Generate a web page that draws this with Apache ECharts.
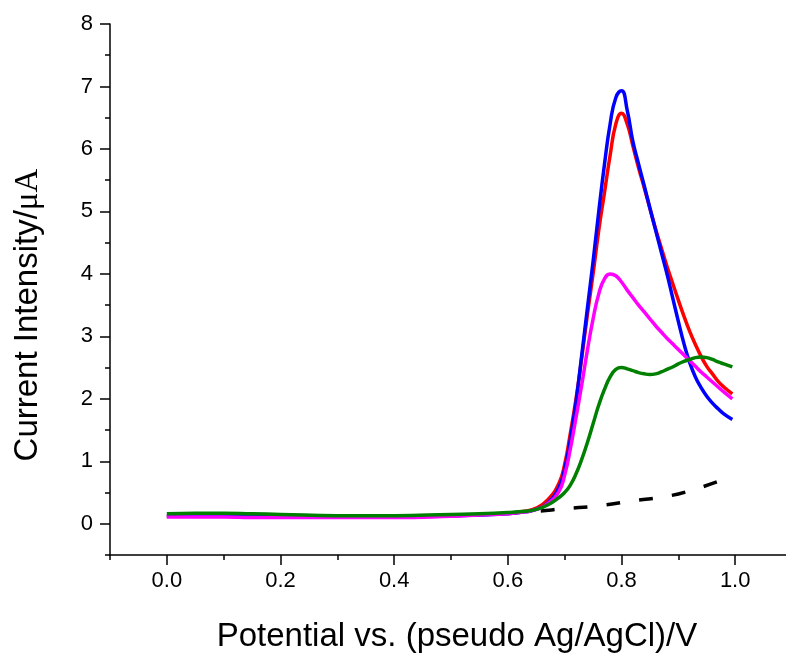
<!DOCTYPE html>
<html>
<head>
<meta charset="utf-8">
<script src="https://cdn.jsdelivr.net/npm/echarts@6/dist/echarts.min.js"></script>
<style>
html,body{margin:0;padding:0;background:#fff;}
#chart{width:786px;height:653px;}
</style>
</head>
<body>
<div id="chart"></div>
<script>
// Potential (V) sample positions shared by the four coloured curves
var potential = [0, 0.05, 0.1, 0.15, 0.2, 0.3, 0.4, 0.5, 0.55, 0.6, 0.63, 0.65, 0.67, 0.69, 0.70, 0.71, 0.72, 0.73, 0.74, 0.75, 0.76, 0.77, 0.78, 0.79, 0.80, 0.81, 0.82, 0.83, 0.84, 0.85, 0.86, 0.87, 0.88, 0.89, 0.90, 0.91, 0.92, 0.93, 0.94, 0.95, 0.96, 0.97, 0.98, 0.995];

var redCurrent = [0.12, 0.12, 0.12, 0.12, 0.11, 0.11, 0.11, 0.13, 0.15, 0.17, 0.20, 0.25, 0.38, 0.65, 0.95, 1.45, 2.0, 2.65, 3.35, 4.0, 4.7, 5.3, 5.9, 6.4, 6.57, 6.4, 6.05, 5.7, 5.38, 5.05, 4.72, 4.42, 4.12, 3.85, 3.58, 3.32, 3.08, 2.87, 2.68, 2.52, 2.4, 2.28, 2.19, 2.08];

var blueCurrent = [0.13, 0.13, 0.12, 0.12, 0.11, 0.11, 0.11, 0.13, 0.14, 0.16, 0.19, 0.23, 0.33, 0.58, 0.88, 1.35, 1.95, 2.7, 3.45, 4.2, 5.0, 5.75, 6.4, 6.82, 6.93, 6.62, 6.12, 5.76, 5.41, 5.05, 4.7, 4.35, 4.0, 3.62, 3.24, 2.88, 2.58, 2.35, 2.18, 2.04, 1.93, 1.84, 1.76, 1.67];

var magentaCurrent = [0.11, 0.11, 0.11, 0.10, 0.10, 0.10, 0.10, 0.12, 0.14, 0.16, 0.19, 0.23, 0.32, 0.52, 0.78, 1.2, 1.7, 2.22, 2.78, 3.28, 3.68, 3.92, 4.0, 3.97, 3.87, 3.74, 3.62, 3.5, 3.39, 3.28, 3.17, 3.07, 2.97, 2.88, 2.79, 2.7, 2.61, 2.52, 2.43, 2.35, 2.27, 2.19, 2.11, 2.0];

var greenCurrent = [0.16, 0.17, 0.17, 0.16, 0.15, 0.13, 0.13, 0.15, 0.16, 0.18, 0.20, 0.23, 0.30, 0.42, 0.5, 0.62, 0.8, 1.03, 1.3, 1.6, 1.9, 2.15, 2.35, 2.47, 2.5, 2.48, 2.45, 2.42, 2.4, 2.39, 2.4, 2.43, 2.47, 2.51, 2.56, 2.6, 2.63, 2.66, 2.67, 2.66, 2.63, 2.59, 2.56, 2.51];

// Blank (black dashed) curve
var blankPotential = [0.6, 0.65, 0.698, 0.762, 0.821, 0.88, 0.921, 0.977];
var blankCurrent = [0.17, 0.2, 0.24, 0.29, 0.37, 0.44, 0.53, 0.70];

var xTickLabels = ['0.0', '0.2', '0.4', '0.6', '0.8', '1.0'];
var yTickLabels = ['0', '1', '2', '3', '4', '5', '6', '7', '8'];

function pairs(xs, ys) { return xs.map(function (x, i) { return [x, ys[i]]; }); }

var FONT = 'Liberation Sans, Arial, sans-serif';
var chart = echarts.init(document.getElementById('chart'), null, {renderer: 'canvas'});

// grid 0: data grid (x -0.1..1.1, y -0.5..8)
// grid 1: same left edge, y 0..8  -> major y ticks + labels
// grid 2: same bottom edge, x 0..1.2 -> major x ticks + labels
var pxPerX = (786 - 110 + 6) / 1.2;
var pxPerY = (653 - 24 - 98) / 8.5;

chart.setOption({
  animation: false,
  backgroundColor: '#ffffff',
  grid: [
    {left: 110, right: -6, top: 24, bottom: 98, outerBoundsMode: 'none', containLabel: false},
    {left: 110, right: -6, top: 24, bottom: 98 + 0.5 * pxPerY, outerBoundsMode: 'none', containLabel: false},
    {left: 110 + 0.1 * pxPerX, right: -6 - 0.1 * pxPerX, top: 24, bottom: 98, outerBoundsMode: 'none', containLabel: false}
  ],
  xAxis: [
    {
      type: 'value', gridIndex: 0, min: -0.1, max: 1.1, interval: 0.1,
      axisLine: {show: true, onZero: false, lineStyle: {color: '#000', width: 1.5}},
      axisTick: {show: true, inside: false, length: 5, lineStyle: {color: '#000', width: 1.5}},
      axisLabel: {show: false},
      splitLine: {show: false},
      name: 'Potential vs. (pseudo Ag/AgCl)/V',
      nameLocation: 'middle', nameGap: 65,
      nameTextStyle: {fontFamily: FONT, fontSize: 33, color: '#000', padding: [0, 0, 0, 12]}
    },
    {type: 'value', gridIndex: 1, min: 0, max: 1, show: false},
    {
      type: 'value', gridIndex: 2, min: 0, max: 1.2, interval: 0.2,
      axisLine: {show: false, onZero: false},
      axisTick: {show: true, inside: false, length: 10, lineStyle: {color: '#000', width: 1.5}},
      axisLabel: {
        show: true, margin: 15, fontFamily: FONT, fontSize: 22, color: '#000',
        formatter: function (v) { var i = Math.round(v / 0.2); return i < xTickLabels.length ? xTickLabels[i] : ''; }
      },
      splitLine: {show: false}
    }
  ],
  yAxis: [
    {
      type: 'value', gridIndex: 0, min: -0.5, max: 8, interval: 0.5,
      axisLine: {show: true, onZero: false, lineStyle: {color: '#000', width: 1.5}},
      axisTick: {show: true, inside: false, length: 5, lineStyle: {color: '#000', width: 1.5}},
      axisLabel: {show: false},
      splitLine: {show: false}
    },
    {
      type: 'value', gridIndex: 1, min: 0, max: 8, interval: 1,
      axisLine: {show: false, onZero: false},
      axisTick: {show: true, inside: false, length: 10, lineStyle: {color: '#000', width: 1.5}},
      axisLabel: {
        show: true, margin: 17, fontFamily: FONT, fontSize: 22, color: '#000',
        formatter: function (v) { return yTickLabels[Math.round(v)]; }
      },
      splitLine: {show: false}
    },
    {type: 'value', gridIndex: 2, min: 0, max: 1, show: false}
  ],
  graphic: [{
    type: 'text',
    x: 28, y: 315,
    rotation: Math.PI / 2,
    style: {
      text: 'Current Intensity/{s|μA}',
      fontFamily: FONT, fontSize: 33, fill: '#000',
      align: 'center', verticalAlign: 'middle',
      rich: {s: {fontFamily: 'Liberation Serif, Times New Roman, serif', fontSize: 33, fill: '#000'}}
    }
  }],
  series: [
    {type: 'line', name: 'blank', xAxisIndex: 0, yAxisIndex: 0, data: pairs(blankPotential, blankCurrent), showSymbol: false, smooth: true,
      lineStyle: {color: '#000', width: 3.5, type: [14, 19], cap: 'butt'}},
    {type: 'line', name: 'red', xAxisIndex: 0, yAxisIndex: 0, data: pairs(potential, redCurrent), showSymbol: false, smooth: true,
      lineStyle: {color: '#ff0000', width: 3.5}},
    {type: 'line', name: 'blue', xAxisIndex: 0, yAxisIndex: 0, data: pairs(potential, blueCurrent), showSymbol: false, smooth: true,
      lineStyle: {color: '#0000ff', width: 3.5}},
    {type: 'line', name: 'magenta', xAxisIndex: 0, yAxisIndex: 0, data: pairs(potential, magentaCurrent), showSymbol: false, smooth: true,
      lineStyle: {color: '#ff00ff', width: 3.5}},
    {type: 'line', name: 'green', xAxisIndex: 0, yAxisIndex: 0, data: pairs(potential, greenCurrent), showSymbol: false, smooth: true,
      lineStyle: {color: '#008000', width: 3.5}}
  ]
});
</script>
</body>
</html>
